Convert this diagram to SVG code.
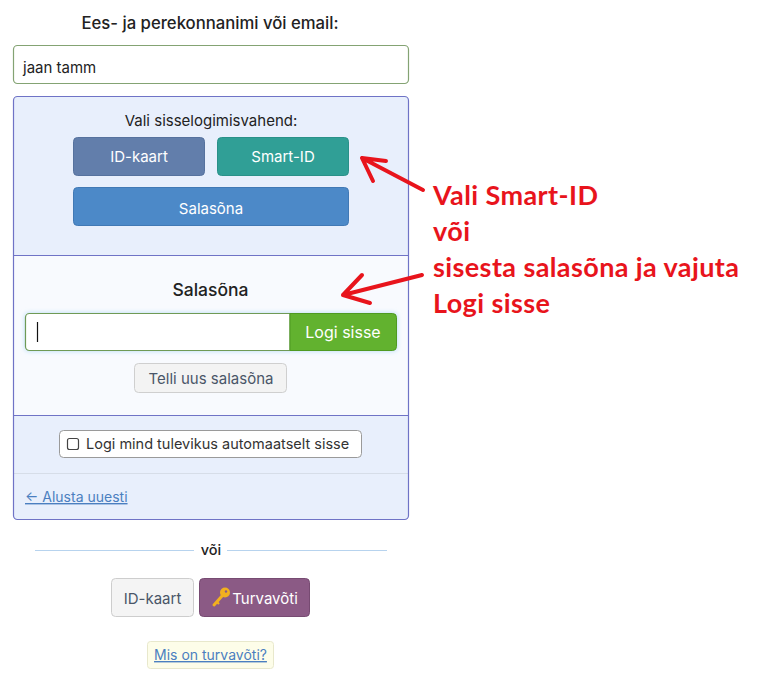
<svg xmlns="http://www.w3.org/2000/svg" width="772" height="678" viewBox="0 0 772 678">
<defs>
<style>
.ui{font-family:Inter,"Noto Sans","Liberation Sans",sans-serif;}
.lbl{font-size:15px;fill:#222;text-anchor:middle;font-weight:500;}
.btn{font-size:15px;fill:#fff;text-anchor:middle;}
.gbtn{font-size:15px;fill:#4a5668;text-anchor:middle;}
.link{font-size:14px;fill:#4b7fc0;text-decoration:underline;}
.note{font-family:Lato,"Open Sans","Liberation Sans",sans-serif;font-weight:bold;font-size:27px;letter-spacing:0.4px;fill:#e8141c;}
.arrow{fill:none;stroke:#e8141c;stroke-width:4;stroke-linecap:round;stroke-linejoin:round;}
</style>
<filter id="glow" x="-10%" y="-30%" width="120%" height="160%">
<feGaussianBlur stdDeviation="2.5"/>
</filter>
</defs>
<rect width="772" height="678" fill="#fff"/>

<g id="name-label" class="ui"><text class="lbl" x="210" y="29" style="font-size:16.7px">Ees- ja perekonnanimi või email:</text></g>

<g id="name-input" class="ui">
<rect x="13.5" y="45.5" width="395" height="38" rx="4" fill="#fff" stroke="#84a373" stroke-width="1.2"/>
<text x="23" y="73" font-size="15" fill="#222">jaan tamm</text>
</g>

<g id="panel">
<rect x="13.5" y="96.5" width="395" height="423" rx="4" fill="#e8effc"/>
<rect x="14" y="255" width="394" height="160" fill="#f8fafe"/>
<line x1="14" y1="255.5" x2="408" y2="255.5" stroke="#6f73c6" stroke-width="1.2"/>
<line x1="14" y1="415.5" x2="408" y2="415.5" stroke="#6f73c6" stroke-width="1.2"/>
<line x1="14" y1="473.5" x2="408" y2="473.5" stroke="#d6dde8" stroke-width="1"/>
<rect x="13.5" y="96.5" width="395" height="423" rx="4" fill="none" stroke="#6f73c6" stroke-width="1.2"/>
</g>

<g id="method-label" class="ui"><text class="lbl" x="211" y="126" style="font-weight:400">Vali sisselogimisvahend:</text></g>

<g id="btn-idkaart" class="ui">
<rect x="73.5" y="137.5" width="131" height="38" rx="4" fill="#627eab" stroke="#56729e"/>
<text class="btn" x="139" y="162">ID-kaart</text>
</g>
<g id="btn-smartid" class="ui">
<rect x="217.5" y="137.5" width="131" height="38" rx="4" fill="#309f96" stroke="#2a9189"/>
<text class="btn" x="283" y="162">Smart-ID</text>
</g>
<g id="btn-salasona" class="ui">
<rect x="73.5" y="187.5" width="275" height="38" rx="4" fill="#4c89c8" stroke="#4179b5"/>
<text class="btn" x="211" y="214">Salasõna</text>
</g>

<g id="password-label" class="ui"><text class="lbl" x="210.5" y="296" style="font-size:17.5px">Salasõna</text></g>

<g id="password-input" class="ui">
<rect x="25" y="313" width="372" height="38" rx="4" fill="#b5dcf5" filter="url(#glow)"/>
<path d="M29.5,313.5 H290 V350.5 H29.5 A4,4 0 0 1 25.5,346.5 V317.5 A4,4 0 0 1 29.5,313.5 Z" fill="#fff" stroke="#6f9a55" stroke-width="1.2"/>
<line x1="37.5" y1="322" x2="37.5" y2="342" stroke="#111" stroke-width="1.2"/>
<path d="M290,313.5 H392.5 A4,4 0 0 1 396.5,317.5 V346.5 A4,4 0 0 1 392.5,350.5 H290 Z" fill="#62b22f" stroke="#4f9a22" stroke-width="1"/>
<text class="btn" x="343" y="338" style="font-size:16px">Logi sisse</text>
</g>

<g id="btn-telli" class="ui">
<rect x="134.5" y="363.5" width="152" height="29" rx="4" fill="#f3f3f3" stroke="#cfcfcf"/>
<text class="gbtn" x="211" y="384">Telli uus salasõna</text>
</g>

<g id="remember" class="ui">
<rect x="59.5" y="430.5" width="302" height="27" rx="4" fill="#fff" stroke="#9a9a9a"/>
<rect x="67.5" y="438.5" width="11" height="11" rx="2" fill="#fff" stroke="#444" stroke-width="1.2"/>
<text x="86" y="449" font-size="14.5" fill="#333">Logi mind tulevikus automaatselt sisse</text>
</g>

<g id="restart" class="ui"><text class="link" x="25" y="502">← Alusta uuesti</text></g>

<g id="or-divider" class="ui">
<line x1="35" y1="550.5" x2="194" y2="550.5" stroke="#b7d3ee" stroke-width="1"/>
<line x1="227" y1="550.5" x2="387" y2="550.5" stroke="#b7d3ee" stroke-width="1"/>
<text class="lbl" x="211" y="555" style="font-size:14.5px">või</text>
</g>

<g id="btn-idkaart2" class="ui">
<rect x="111.5" y="578.5" width="82" height="38" rx="4" fill="#f4f4f4" stroke="#cdcdcd"/>
<text class="gbtn" x="152.5" y="604">ID-kaart</text>
</g>
<g id="btn-turvavoti" class="ui">
<rect x="199.5" y="578.5" width="110" height="38" rx="4" fill="#8b5a85" stroke="#774b72"/>
<g fill="#f2b01e" stroke="#f2b01e">
<circle cx="225" cy="592.5" r="5" stroke="none"/>
<line x1="222" y1="596" x2="214" y2="605" stroke-width="3" stroke-linecap="round"/>
<line x1="216.5" y1="601.5" x2="219" y2="604" stroke-width="2.2"/>
</g>
<circle cx="226" cy="591.5" r="1.2" fill="#8b5a85"/>
<text class="btn" x="265" y="604">Turvavõti</text>
</g>

<g id="what-is" class="ui">
<rect x="147.5" y="641.5" width="126" height="27" rx="3" fill="#fdfde9" stroke="#e8e8cc"/>
<text class="link" x="210.5" y="660" text-anchor="middle">Mis on turvavõti?</text>
</g>

<g id="connectors">
<path class="arrow" d="M423,190 L362,158 M362,158 L386,161 M362,158 L373,181"/>
<path class="arrow" d="M422,275 L343,295 M343,295 L362,275 M343,295 L370,303"/>
</g>

<g id="annotation">
<text class="note" x="433" y="205">Vali Smart-ID</text>
<text class="note" x="433" y="241">või</text>
<text class="note" x="433" y="277">sisesta salasõna ja vajuta</text>
<text class="note" x="433" y="313">Logi sisse</text>
</g>
</svg>
